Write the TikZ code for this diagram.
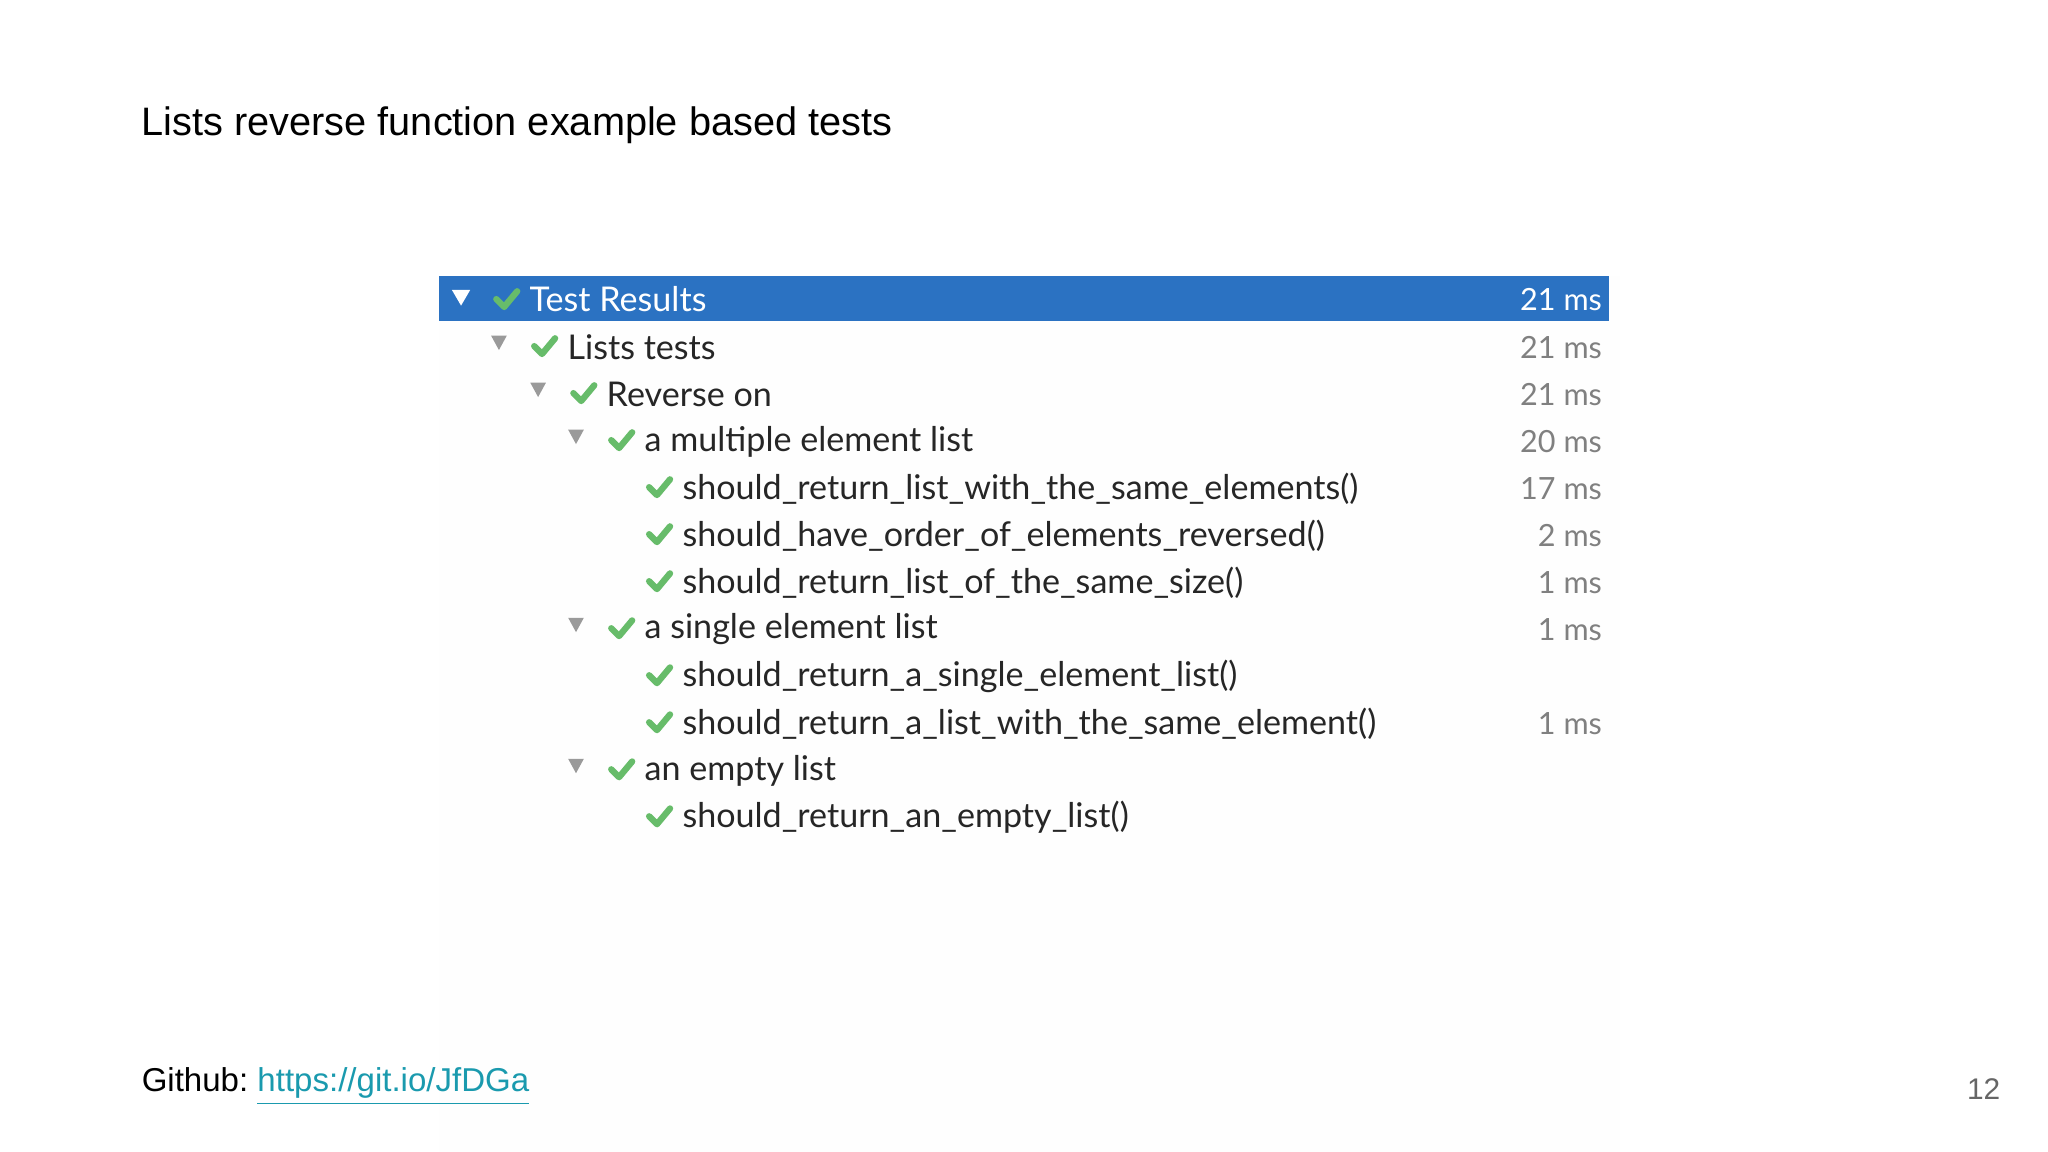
\documentclass[tikz,border=0pt]{standalone}
\usepackage{fontspec}
\setmainfont{Liberation Sans}
\newfontfamily\ui{Lato}
\definecolor{hdr}{HTML}{2B72C2}
\definecolor{chk}{HTML}{4CB050}
\definecolor{tri}{HTML}{9A9A9A}
\definecolor{tms}{HTML}{808080}
\definecolor{lnk}{HTML}{1A9AAE}
\begin{document}
\begin{tikzpicture}[x=0.01306cm,y=-0.01306cm,
  rowtxt/.style={anchor=west,inner sep=0,font=\ui\fontsize{9.7pt}{10pt}\selectfont,text=black!85},
  tmtxt/.style={anchor=east,inner sep=0,font=\ui\fontsize{8.7pt}{10pt}\selectfont,text=tms},
  chkmark/.style={draw=chk!85,line width=1.8pt,line cap=round,line join=round},
  trimark/.style={fill=tri}]
\useasboundingbox (0,0) rectangle (1568,882);
\fill[black!0.5] (336,211) rectangle (1240,882);
\node[anchor=west,inner sep=0,font=\fontsize{11.3pt}{12pt}\selectfont] (title) at (108,96) {Lists reverse function example based tests};
\fill[hdr] (336,211) rectangle (1232,246);
% header
\fill[white] (346,222) -- (360,222) -- (353,234) -- cycle;
\draw[chkmark] (380,229) -- (386,235) -- (396,223);
\node[rowtxt,text=white] (r0) at (405,229) {Test Results};
\node[tmtxt,text=white] (t0) at (1227,229) {21 ms};
\foreach \y/\tx/\cx/\lab/\tm/\nm in {
 265/382/416/Lists tests/21 ms/r1,
 301/412/446/Reverse on/21 ms/r2,
 337/441/475/a multiple element list/20 ms/r3,
 373/0/504/should\_return\_list\_with\_the\_same\_elements()/17 ms/r4,
 409/0/504/should\_have\_order\_of\_elements\_reversed()/2 ms/r5,
 445/0/504/should\_return\_list\_of\_the\_same\_size()/1 ms/r6,
 481/441/475/a single element list/1 ms/r7,
 517/0/504/should\_return\_a\_single\_element\_list()//r8,
 553/0/504/should\_return\_a\_list\_with\_the\_same\_element()/1 ms/r9,
 589/441/475/an empty list//r10,
 625/0/504/should\_return\_an\_empty\_list()//r11}{
  \ifnum\tx>0 \fill[trimark] (\tx-6,\y-8) -- (\tx+6,\y-8) -- (\tx,\y+3) -- cycle; \fi
  \draw[chkmark] (\cx-7,\y) -- (\cx-1,\y+6) -- (\cx+9,\y-6);
  \node[rowtxt] (\nm) at (\cx+18,\y+1) {\lab};
  \node[tmtxt] (\nm t) at (1227,\y+1) {\tm};
}
\node[anchor=west,inner sep=0,font=\fontsize{9.4pt}{10pt}\selectfont] (gh) at (108,832) {Github:\ \textcolor{lnk}{\underline{https://git.io/JfDGa}}};
\node[anchor=east,inner sep=0,font=\fontsize{8.5pt}{10pt}\selectfont,text=black!60] (pg) at (1532,834) {12};
\end{tikzpicture}
\end{document}
